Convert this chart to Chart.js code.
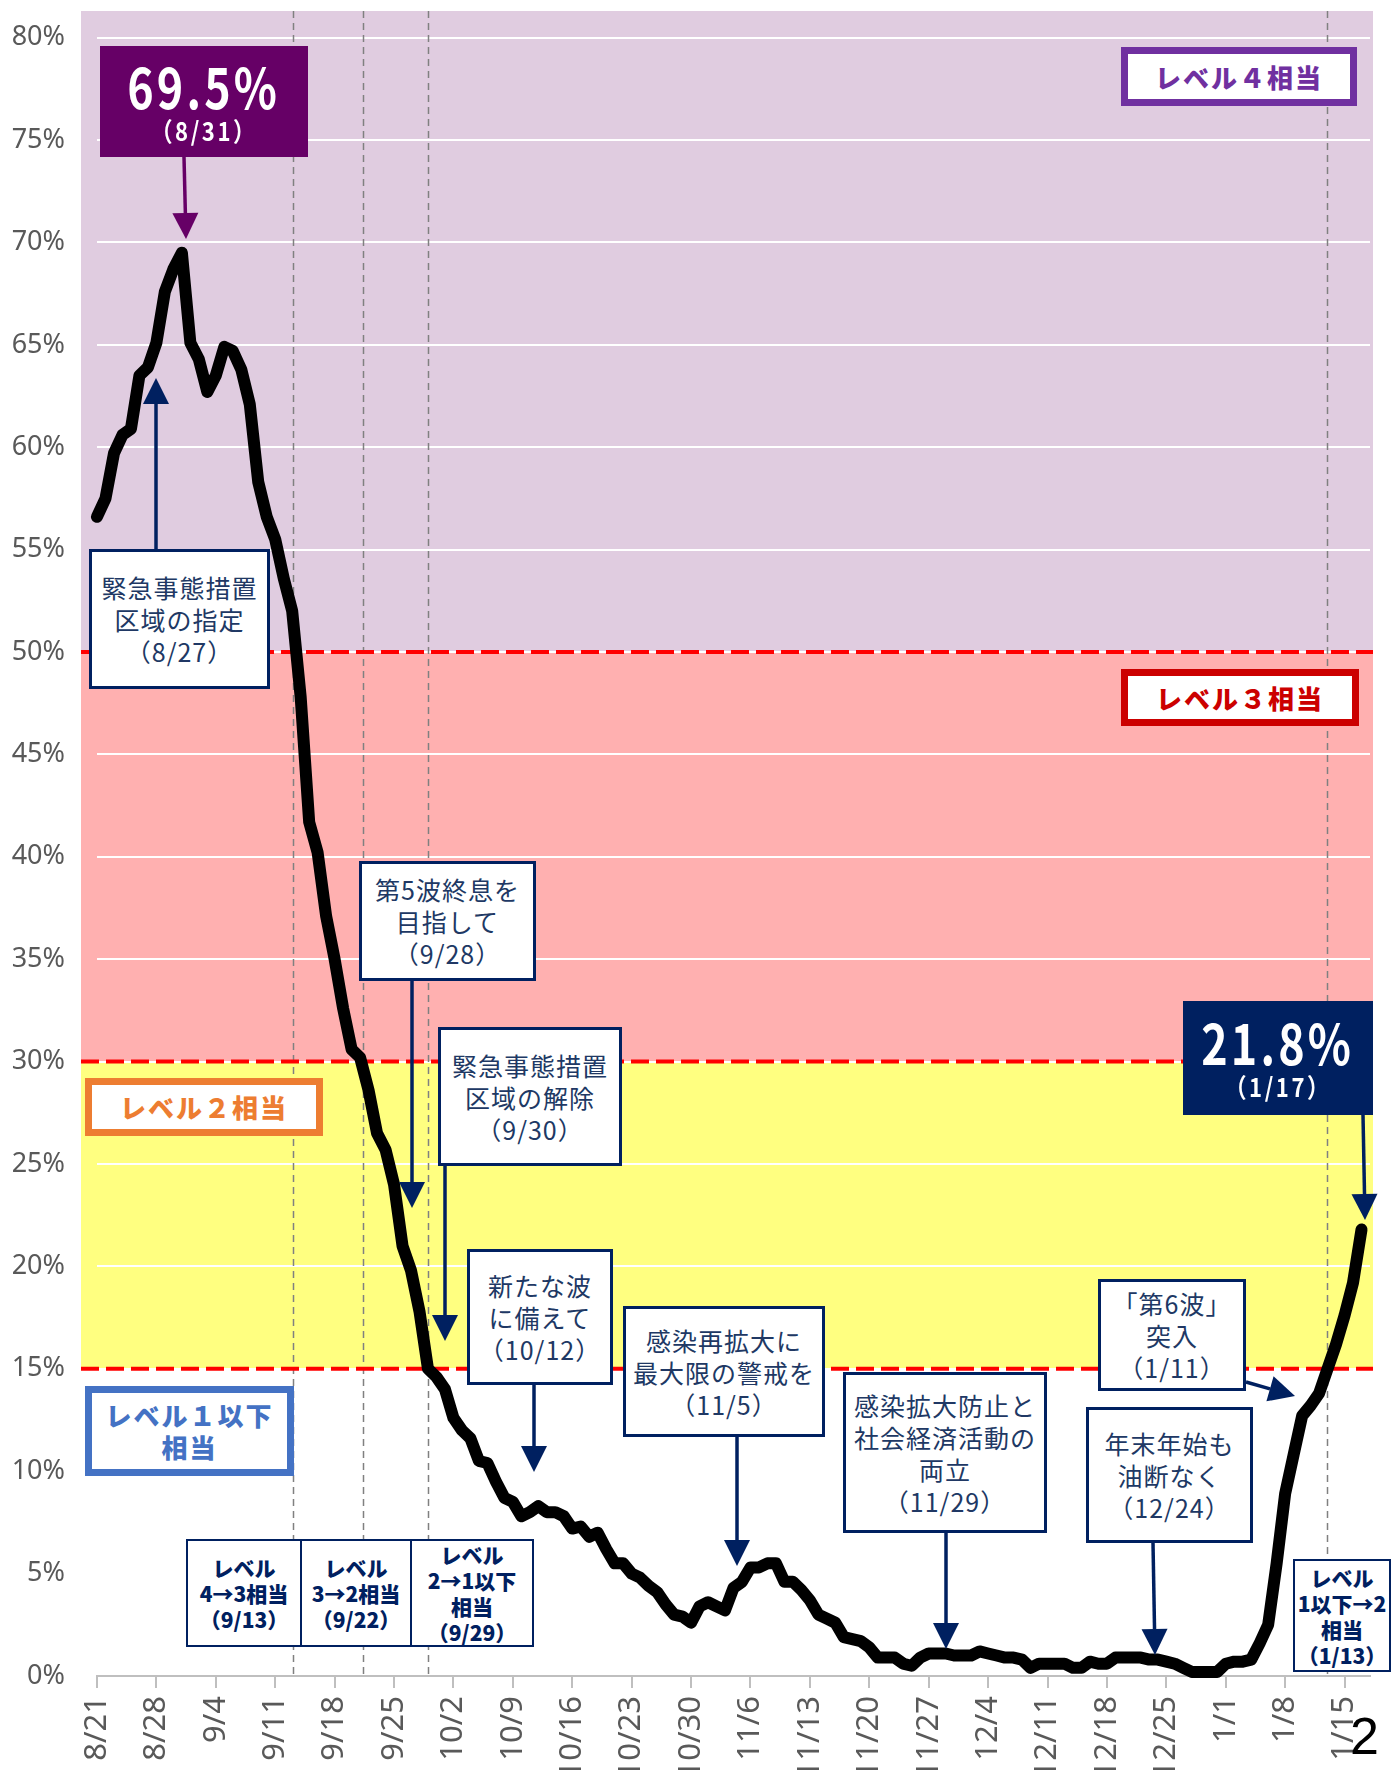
<!DOCTYPE html>
<html lang="ja">
<head>
<meta charset="utf-8">
<script src="https://cdn.jsdelivr.net/npm/chart.js@4.4.1/dist/chart.umd.min.js"></script>
<style>
  html, body { margin: 0; padding: 0; background: #fff; }
  #wrap { position: relative; width: 1391px; height: 1770px; overflow: hidden;
          font-family: "Noto Sans CJK JP", "Noto Sans", sans-serif; }
  #chart { position: absolute; left: 0; top: 0; }
  #arrows { position: absolute; left: 0; top: 0; pointer-events: none; }
  .note { position: absolute; box-sizing: border-box; background: #fff; border: 3px solid #002060;
          color: #203864; display: flex; flex-direction: column; align-items: center; justify-content: center;
          font-size: 25px; line-height: 32px; letter-spacing: 1px; text-align: center; white-space: nowrap; }
  .level { position: absolute; box-sizing: border-box; background: #fff; border: 7px solid;
           display: flex; align-items: center; justify-content: center; text-align: center;
           font-weight: 900; font-size: 26px; line-height: 32px; letter-spacing: 2px; white-space: nowrap; }
  .step { position: absolute; box-sizing: border-box; background: #fff; border: 2px solid #002060;
          color: #002060; display: flex; flex-direction: column; align-items: center; justify-content: center;
          font-weight: 900; font-size: 21px; line-height: 26px; text-align: center; white-space: nowrap; }
  .big { position: absolute; box-sizing: border-box; color: #fff; display: flex; flex-direction: column;
         align-items: center; justify-content: center; font-weight: 700; }
  .big .v { font-size: 56px; line-height: 56px; transform: scaleX(0.8); letter-spacing: 4px; }
  .big .d { font-size: 26px; line-height: 34px; transform: scaleX(0.85); letter-spacing: 3px; }
  #page { position: absolute; left: 1350px; top: 1706px; font-family: "Liberation Sans", sans-serif;
          font-size: 52px; line-height: 60px; color: #000; }
</style>
</head>
<body>
<div id="wrap">
  <canvas id="chart" width="1391" height="1770"></canvas>
  <svg id="arrows" width="1391" height="1770"></svg>

  <div class="big" style="left:100px;top:46px;width:208px;height:111px;background:#660066;">
    <div class="v">69.5%</div><div class="d">（8/31）</div></div>
  <div class="big" style="left:1183px;top:1001px;width:190px;height:114px;background:#002060;">
    <div class="v">21.8%</div><div class="d">（1/17）</div></div>

  <div class="level" style="left:1121px;top:47px;width:236px;height:59px;border-color:#7030A0;color:#7030A0;">レベル４相当</div>
  <div class="level" style="left:1121px;top:669px;width:238px;height:57px;border-color:#CC0000;color:#CC0000;">レベル３相当</div>
  <div class="level" style="left:85px;top:1078px;width:238px;height:58px;border-color:#ED7D31;color:#ED7D31;">レベル２相当</div>
  <div class="level" style="left:85px;top:1386px;width:209px;height:90px;border-color:#4472C4;color:#4472C4;">レベル１以下<br>相当</div>

  <div class="note" style="left:89px;top:549px;width:181px;height:140px;">緊急事態措置<br>区域の指定<br>（8/27）</div>
  <div class="note" style="left:359px;top:861px;width:177px;height:120px;">第5波終息を<br>目指して<br>（9/28）</div>
  <div class="note" style="left:438px;top:1027px;width:184px;height:139px;">緊急事態措置<br>区域の解除<br>（9/30）</div>
  <div class="note" style="left:467px;top:1249px;width:146px;height:136px;">新たな波<br>に備えて<br>（10/12）</div>
  <div class="note" style="left:623px;top:1306px;width:202px;height:131px;">感染再拡大に<br>最大限の警戒を<br>（11/5）</div>
  <div class="note" style="left:843px;top:1372px;width:204px;height:161px;">感染拡大防止と<br>社会経済活動の<br>両立<br>（11/29）</div>
  <div class="note" style="left:1098px;top:1279px;width:148px;height:112px;">「第6波」<br>突入<br>（1/11）</div>
  <div class="note" style="left:1086px;top:1407px;width:167px;height:136px;">年末年始も<br>油断なく<br>（12/24）</div>

  <div class="step" style="left:186px;top:1539px;width:116px;height:108px;">レベル<br>4→3相当<br>（9/13）</div>
  <div class="step" style="left:300px;top:1539px;width:112px;height:108px;">レベル<br>3→2相当<br>（9/22）</div>
  <div class="step" style="left:410px;top:1539px;width:124px;height:108px;">レベル<br>2→1以下<br>相当<br>（9/29）</div>
  <div class="step" style="left:1293px;top:1559px;width:98px;height:113px;">レベル<br>1以下→2<br>相当<br>（1/13）</div>

  <div id="page">2</div>
</div>

<script>
// 病床使用率 (8/21 - 1/17, daily)
const startDate = '8/21';
const tickLabels = ['8/21','8/28','9/4','9/11','9/18','9/25','10/2','10/9','10/16','10/23','10/30',
                    '11/6','11/13','11/20','11/27','12/4','12/11','12/18','12/25','1/1','1/8','1/15'];
const occupancy = [
  56.6, 57.5, 59.7, 60.6, 60.9, 63.5, 63.9, 65.1, 67.6, 68.7,
  69.5, 65.1, 64.3, 62.7, 63.5, 64.9, 64.7, 63.8, 62.1, 58.3,
  56.6, 55.5, 53.6, 52.0, 47.8, 41.7, 40.2, 37.1, 35.0, 32.6,
  30.6, 30.2, 28.6, 26.5, 25.7, 24.0, 21.0, 19.8, 17.8, 15.0,
  14.6, 14.0, 12.6, 12.0, 11.6, 10.5, 10.4, 9.5, 8.7, 8.5,
  7.8, 8.0, 8.3, 8.0, 8.0, 7.8, 7.2, 7.3, 6.8, 7.0,
  6.2, 5.5, 5.5, 5.0, 4.8, 4.4, 4.1, 3.5, 3.0, 2.9,
  2.6, 3.4, 3.6, 3.4, 3.2, 4.3, 4.6, 5.3, 5.3, 5.5,
  5.5, 4.6, 4.6, 4.2, 3.7, 3.0, 2.8, 2.6, 1.9, 1.8,
  1.7, 1.4, 0.9, 0.9, 0.9, 0.6, 0.5, 0.9, 1.1, 1.1,
  1.1, 1.0, 1.0, 1.0, 1.2, 1.1, 1.0, 0.9, 0.9, 0.8,
  0.4, 0.6, 0.6, 0.6, 0.6, 0.4, 0.4, 0.7, 0.6, 0.6,
  0.9, 0.9, 0.9, 0.9, 0.8, 0.8, 0.7, 0.6, 0.4, 0.2,
  0.2, 0.2, 0.2, 0.6, 0.7, 0.7, 0.8, 1.6, 2.5, 5.5,
  8.9, 10.8, 12.7, 13.2, 13.8, 15.0, 16.2, 17.6, 19.2, 21.8
];
const levelLines = [15, 30, 50];
const bands = [[15, 30, '#FFFF80'], [30, 50, '#FFB0B0'], [50, null, '#E0CCE0']];
const stepDays = [23.1, 31.4, 39.0, 144.9];   // 9/13, 9/22, 9/29, 1/13

// arrows: [x1, y1, x2(tip), y2(tip), colour]
const arrows = [
  [184, 157, 186, 239, '#660066'],
  [156, 549, 156, 378, '#002060'],
  [412, 981, 412, 1208, '#002060'],
  [445, 1166, 445, 1341, '#002060'],
  [534, 1385, 534, 1472, '#002060'],
  [737, 1437, 737, 1566, '#002060'],
  [946, 1533, 946, 1649, '#002060'],
  [1153, 1543, 1155, 1655, '#002060'],
  [1246, 1382, 1295, 1396, '#002060'],
  [1363, 1115, 1365, 1220, '#002060']
];

const svg = document.getElementById('arrows');
arrows.forEach(([x1, y1, x2, y2, c]) => {
  const len = Math.hypot(x2 - x1, y2 - y1), ux = (x2 - x1) / len, uy = (y2 - y1) / len;
  const hl = 26, hw = 13;
  const bx = x2 - ux * hl, by = y2 - uy * hl;
  svg.insertAdjacentHTML('beforeend',
    `<line x1="${x1}" y1="${y1}" x2="${bx}" y2="${by}" stroke="${c}" stroke-width="3.5"/>` +
    `<polygon points="${x2},${y2} ${bx - uy * hw},${by + ux * hw} ${bx + uy * hw},${by - ux * hw}" fill="${c}"/>`);
});

const backdrop = {
  id: 'backdrop',
  beforeDraw(chart) {
    const { ctx, chartArea: a, scales: { y } } = chart;
    ctx.save();
    bands.forEach(([lo, hi, col]) => {
      const top = hi === null ? a.top : y.getPixelForValue(hi);
      ctx.fillStyle = col;
      ctx.fillRect(a.left - 16, top, a.right - a.left + 19, y.getPixelForValue(lo) - top);
    });
    ctx.restore();
  },
  beforeDatasetsDraw(chart) {
    const { ctx, chartArea: a, scales: { x, y } } = chart;
    ctx.save();
    ctx.strokeStyle = '#808080';
    ctx.lineWidth = 1.5;
    ctx.setLineDash([7, 5]);
    stepDays.forEach(d => {
      const px = Math.round(x.getPixelForValue(d)) + 0.5;
      ctx.beginPath(); ctx.moveTo(px, a.top); ctx.lineTo(px, a.bottom); ctx.stroke();
    });
    ctx.strokeStyle = '#FF0000';
    ctx.lineWidth = 4;
    ctx.setLineDash([18, 7]);
    levelLines.forEach(v => {
      const py = y.getPixelForValue(v);
      ctx.beginPath(); ctx.moveTo(a.left - 16, py); ctx.lineTo(a.right + 3, py); ctx.stroke();
    });
    ctx.restore();
  }
};

new Chart(document.getElementById('chart'), {
  type: 'line',
  data: {
    datasets: [{
      label: '病床使用率',
      data: occupancy.map((v, i) => ({ x: i, y: v })),
      borderColor: '#000', borderWidth: 12,
      pointRadius: 0, tension: 0,
      borderJoinStyle: 'round', borderCapStyle: 'round',
      clip: false
    }]
  },
  options: {
    responsive: false, animation: false, devicePixelRatio: 1,
    layout: { padding: { top: 11, right: 21, left: 0, bottom: 0 } },
    plugins: { legend: { display: false }, tooltip: { enabled: false } },
    scales: {
      x: {
        type: 'linear', min: 0, max: 150,
        afterFit: s => { s.height = 94; s.paddingLeft = 0; s.paddingRight = 0; },
        border: { display: true, color: '#BFBFBF', width: 2 },
        grid: { drawOnChartArea: false, drawTicks: true, tickLength: 12, color: '#BFBFBF', lineWidth: 2 },
        ticks: {
          stepSize: 7, includeBounds: false, autoSkip: false,
          minRotation: 90, maxRotation: 90, padding: 8,
          color: '#595959', font: { family: 'Noto Sans', size: 31 },
          callback: v => tickLabels[v / 7] || ''
        }
      },
      y: {
        min: 0, max: 81.3,
        afterFit: s => { s.width = 97; s.paddingTop = 0; s.paddingBottom = 0; },
        border: { display: false },
        grid: { color: c => c.tick && c.tick.value === 0 ? 'rgba(0,0,0,0)' : '#FFFFFF', lineWidth: 2, drawTicks: false },
        ticks: {
          stepSize: 5, includeBounds: false, padding: 32,
          color: '#595959', font: { family: 'Noto Sans', size: 27 },
          callback: v => v + '%'
        }
      }
    }
  },
  plugins: [backdrop]
});
</script>
</body>
</html>
